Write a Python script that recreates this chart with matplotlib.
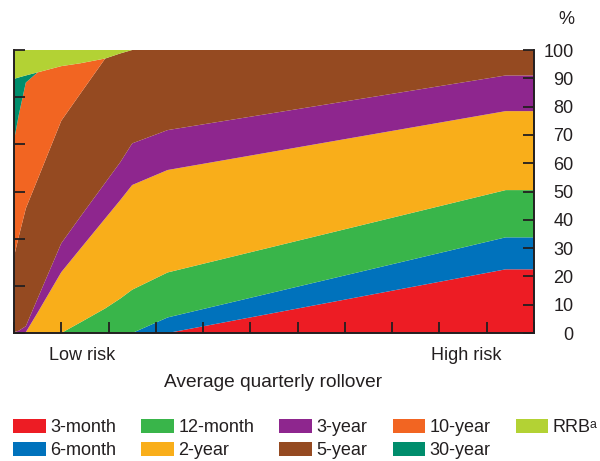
import numpy as np
import matplotlib
matplotlib.use("Agg")
import matplotlib.pyplot as plt

plt.rcParams['font.family'] = ['Liberation Sans', 'DejaVu Sans']

# position along the rollover scale (0 = lowest risk, 11 = highest)
x = [0, 0.1, 0.25, 0.5, 1.0, 1.4, 1.93, 2.25, 2.5, 3.25, 10.4, 11]

# share of each bond in the portfolio, %
m3 = [0, 0, 0, 0, 0, 0, 0, 0, 0, 0, 22.5, 22.5]
m6 = [0, 0, 0, 0, 0, 0, 0, 0, 0, 5.5, 11.3, 11.3]
m12 = [0, 0, 0, 0, 0, 3.7, 8.7, 12.2, 15.3, 15.9, 16.7, 16.7]
y2 = [0, 0, 0.3, 7.2, 21.5, 26.0, 31.8, 34.8, 37.0, 36.2, 27.9, 27.9]
y3 = [0.3, 0.8, 2.1, 5.0, 10.2, 11.3, 12.6, 13.4, 14.7, 14.1, 12.6, 12.6]
y5 = [26.7, 33.2, 41.6, 42.1, 43.3, 43.5, 43.9, 38.4, 33.0, 28.3, 9.0, 9.0]
y10 = [41.0, 43.0, 44.5, 37.8, 19.3, 10.8, 0, 0, 0, 0, 0, 0]
y30 = [21.8, 13.3, 2.5, 0, 0, 0, 0, 0, 0, 0, 0, 0]
rrb = [10.2, 9.7, 9.0, 7.9, 5.7, 4.7, 3.0, 1.2, 0, 0, 0, 0]

labels = ['3-month', '6-month', '12-month', '2-year', '3-year', '5-year',
          '10-year', '30-year', 'RRB\u1d43']
colors = ['#ED1C24', '#0072BC', '#39B54A', '#F9AE1A', '#8E268E', '#954A21',
          '#F26522', '#008D6C', '#B3D234']

dark = '#231F20'
fs = 13

fig = plt.figure(figsize=(6, 4.61), dpi=100)
ax = fig.add_axes([14/600, 1-333/461, 520/600, 283/461])

ax.stackplot(x, m3, m6, m12, y2, y3, y5, y10, y30, rrb,
             colors=colors, labels=labels, linewidth=0)

ax.set_xlim(0, 11)
ax.set_ylim(0, 100)
ax.set_xticks(np.arange(0, 12))
ax.set_xticklabels([])
ax.set_yticks(np.linspace(0, 100, 7))
ax.set_yticklabels([])
ax.tick_params(direction='in', length=8, width=1.3, color=dark)

for s in ['left', 'bottom', 'right']:
    ax.spines[s].set_color(dark)
    ax.spines[s].set_linewidth(1.4)
ax.spines['top'].set_visible(False)

ax2 = ax.twinx()
ax2.set_ylim(0, 100)
ax2.set_yticks(np.arange(0, 101, 10))
ax2.tick_params(direction='in', length=8, width=1.3, color=dark,
                labelsize=fs, labelcolor=dark, pad=28.5)
for t in ax2.get_yticklabels():
    t.set_horizontalalignment('right')
for s in ax2.spines.values():
    s.set_visible(False)

fig.text(574/600, 1-19/461, '%', ha='right', va='center', fontsize=fs, color=dark)
fig.text(82/600, 1-355/461, 'Low risk', ha='center', va='center', fontsize=fs, color=dark)
fig.text(466/600, 1-355/461, 'High risk', ha='center', va='center', fontsize=fs, color=dark)
fig.text(273/600, 1-382/461, 'Average quarterly rollover', ha='center', va='center',
         fontsize=13.8, color=dark)

handles, labs = ax.get_legend_handles_labels()
leg = fig.legend(handles, labs, loc='upper left', bbox_to_anchor=(13/600, 1-419/461),
                 ncol=5, frameon=False, fontsize=fs, borderpad=0, borderaxespad=0,
                 handlelength=1.8, handleheight=0.85, handletextpad=0.25,
                 columnspacing=1.4, labelspacing=0.3)
for t in leg.get_texts():
    t.set_color(dark)

fig.savefig('out.png', dpi=100)
